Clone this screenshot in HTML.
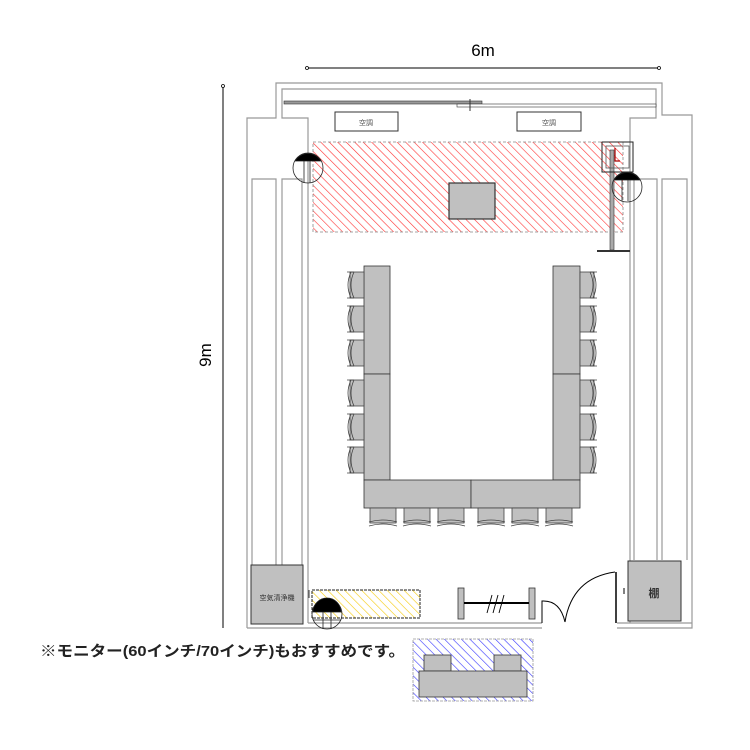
<!DOCTYPE html>
<html><head><meta charset="utf-8"><style>
html,body{margin:0;padding:0;background:#fff;}
svg{display:block}
</style></head><body>
<svg width="750" height="750" viewBox="0 0 750 750" xmlns="http://www.w3.org/2000/svg">
<defs>
<pattern id="red" patternUnits="userSpaceOnUse" width="6" height="6" patternTransform="rotate(-45)">
<rect width="6" height="6" fill="#fff"/><line x1="0" y1="0" x2="0" y2="6" stroke="#f33" stroke-width="1.2"/></pattern>
<pattern id="yel" patternUnits="userSpaceOnUse" width="6" height="6" patternTransform="rotate(-45)">
<rect width="6" height="6" fill="#fff"/><line x1="0" y1="0" x2="0" y2="6" stroke="#f5c800" stroke-width="1.2"/></pattern>
<pattern id="blu" patternUnits="userSpaceOnUse" width="6" height="6" patternTransform="rotate(-45)">
<rect width="6" height="6" fill="#fff"/><line x1="0" y1="0" x2="0" y2="6" stroke="#33f" stroke-width="1.2"/></pattern>
<g id="chL"><rect x="4" y="1" width="14" height="26" fill="#c0c0c0" stroke="#444" stroke-width="0.8"/><path d="M5,1 Q-1,14 5,27 M8,1 Q2,14 8,27 M1,1 L8,1 M1,27 L8,27" fill="none" stroke="#444" stroke-width="0.8"/></g>
</defs>

<!-- dimensions -->
<line x1="307" y1="68" x2="659" y2="68" stroke="#000" stroke-width="1"/>
<circle cx="307" cy="68" r="1.5" fill="#fff" stroke="#000" stroke-width="0.8"/>
<circle cx="659" cy="68" r="1.5" fill="#fff" stroke="#000" stroke-width="0.8"/>
<text x="483" y="56" font-family="Liberation Sans, sans-serif" font-size="17" text-anchor="middle">6m</text>
<line x1="223" y1="86" x2="223" y2="628" stroke="#000" stroke-width="1"/>
<circle cx="223" cy="86" r="1.5" fill="#fff" stroke="#000" stroke-width="0.8"/>
<text x="0" y="0" transform="translate(211,355) rotate(-90)" font-family="Liberation Sans, sans-serif" font-size="17" text-anchor="middle">9m</text>

<!-- walls -->
<g fill="none" stroke="#999" stroke-width="1.2">
<path d="M247,628 L247,118 L276,118 L276,83 L662,83 L662,115 L692,115 L692,628 L617,628"/>
<path d="M542,628 L247,628"/>
<path d="M308,623 L308,118 L282,118 L282,89 L656,89 L656,118 L630,118 L630,623"/>
<path d="M252,565 L252,179 L276,179 L276,565 M282,565 L282,179 L302,179 L302,565"/>
<path d="M634,560 L634,179 L657,179 L657,560 M662,560 L662,179 L687,179 L687,560"/>
<path d="M308,623 L542,623 M617,623 L692,623"/>
</g>
<!-- rails -->
<rect x="284" y="101" width="198" height="3" fill="#999" stroke="#333" stroke-width="0.6"/>
<rect x="457" y="104" width="199" height="3" fill="#fff" stroke="#333" stroke-width="0.6"/>
<line x1="470" y1="99" x2="470" y2="111" stroke="#333" stroke-width="1"/>

<!-- AC -->
<rect x="335" y="112" width="63" height="19" fill="#fff" stroke="#333" stroke-width="1"/>
<rect x="517" y="112" width="64" height="19" fill="#fff" stroke="#333" stroke-width="1"/>
<text x="366" y="125" font-family="Liberation Sans, 'Noto Sans CJK JP', sans-serif" font-size="7" text-anchor="middle" fill="#555">空調</text>
<text x="549" y="125" font-family="Liberation Sans, 'Noto Sans CJK JP', sans-serif" font-size="7" text-anchor="middle" fill="#555">空調</text>

<!-- red area -->
<rect x="313" y="142" width="310" height="90" fill="url(#red)" stroke="#888" stroke-width="0.8" stroke-dasharray="3,2"/>
<rect x="449" y="183" width="46" height="36" fill="#c0c0c0" stroke="#333" stroke-width="1.2"/>
<!-- stand -->
<rect x="610" y="150" width="4" height="100" fill="#aaa" stroke="#333" stroke-width="0.6"/>
<line x1="597" y1="251" x2="630" y2="251" stroke="#333" stroke-width="2"/>
<rect x="602" y="142" width="31" height="30" fill="none" stroke="#222" stroke-width="1"/>
<rect x="606" y="146" width="23" height="22" fill="none" stroke="#555" stroke-width="0.8"/>
<path d="M615,148 L615,161 L620,161" fill="none" stroke="#a00" stroke-width="1.2"/>
<!-- speakers -->
<g stroke="#222" stroke-width="0.8">
<circle cx="308" cy="168" r="15" fill="none"/>
<path d="M295,161 A15,15 0 0 1 321,161 Z" fill="#000"/>
<line x1="304" y1="161" x2="304" y2="183"/><line x1="310" y1="161" x2="310" y2="183"/>
<circle cx="627" cy="187" r="15" fill="none"/>
<path d="M614,180 A15,15 0 0 1 640,180 Z" fill="#000"/>
<line x1="622" y1="180" x2="622" y2="201"/><line x1="628" y1="180" x2="628" y2="201"/>
</g>

<!-- tables -->
<g fill="#c0c0c0" stroke="#333" stroke-width="0.8">
<rect x="364" y="266" width="26" height="108"/><rect x="364" y="374" width="26" height="106"/>
<rect x="553" y="266" width="27" height="108"/><rect x="553" y="374" width="27" height="106"/>
<rect x="364" y="480" width="107" height="28"/><rect x="471" y="480" width="109" height="28"/>
</g>
<!-- chairs left -->
<g>
<use href="#chL" x="346" y="271"/><use href="#chL" x="346" y="305"/><use href="#chL" x="346" y="339"/>
<use href="#chL" x="346" y="379"/><use href="#chL" x="346" y="413"/><use href="#chL" x="346" y="446"/>
</g>
<g transform="translate(944,0) scale(-1,1)">
<use href="#chL" x="346" y="271"/><use href="#chL" x="346" y="305"/><use href="#chL" x="346" y="339"/>
<use href="#chL" x="346" y="379"/><use href="#chL" x="346" y="413"/><use href="#chL" x="346" y="446"/>
</g>
<!-- bottom chairs -->
<g fill="#c0c0c0" stroke="#444" stroke-width="0.8">
<rect x="370" y="508" width="26" height="15"/><rect x="404" y="508" width="26" height="15"/><rect x="438" y="508" width="26" height="15"/>
<rect x="478" y="508" width="26" height="15"/><rect x="512" y="508" width="26" height="15"/><rect x="546" y="508" width="26" height="15"/>
<path fill="none" d="M369,522 Q383,518 397,522 M369,526 Q383,522 397,526 M403,522 Q417,518 431,522 M403,526 Q417,522 431,526 M437,522 Q451,518 465,522 M437,526 Q451,522 465,526 M477,522 Q491,518 505,522 M477,526 Q491,522 505,526 M511,522 Q525,518 539,522 M511,526 Q525,522 539,526 M545,522 Q559,518 573,522 M545,526 Q559,522 573,526"/>
</g>

<!-- bottom left -->
<rect x="251" y="565" width="52" height="59" fill="#c0c0c0" stroke="#333" stroke-width="1"/>
<text x="277" y="600" font-family="Liberation Sans, 'Noto Sans CJK JP', sans-serif" font-size="7" text-anchor="middle" fill="#333">空気清浄機</text>
<rect x="312" y="590" width="108" height="28" fill="url(#yel)" stroke="#222" stroke-width="1" stroke-dasharray="3,1"/>
<line x1="309" y1="590" x2="309" y2="598" stroke="#333" stroke-width="1"/>
<g stroke="#222" stroke-width="0.8">
<circle cx="327" cy="614" r="15" fill="none"/>
<path d="M313,612 A14,14 0 0 1 341,612 Z" fill="#000"/>
<line x1="323" y1="612" x2="323" y2="629"/><line x1="331" y1="612" x2="331" y2="629"/>
<line x1="313" y1="620" x2="341" y2="620"/>
</g>
<!-- bar -->
<rect x="458" y="588" width="6" height="31" fill="#c0c0c0" stroke="#333" stroke-width="0.8"/>
<rect x="529" y="588" width="6" height="31" fill="#c0c0c0" stroke="#333" stroke-width="0.8"/>
<line x1="464" y1="603" x2="529" y2="603" stroke="#000" stroke-width="2"/>
<path d="M487,613 L492,595 M493,613 L498,595 M499,613 L504,595" stroke="#000" stroke-width="0.9"/>
<!-- door -->
<path d="M542,623 L542,601 Q560,600 565,622" fill="none" stroke="#000" stroke-width="1"/>
<path d="M565,622 Q572,578 615,572" fill="none" stroke="#000" stroke-width="1"/>
<line x1="616" y1="572" x2="616" y2="623" stroke="#000" stroke-width="1.5"/>
<line x1="624" y1="588" x2="624" y2="594" stroke="#000" stroke-width="1"/>
<rect x="628" y="561" width="53" height="60" fill="#c0c0c0" stroke="#333" stroke-width="1"/>
<text x="654" y="597" font-family="Liberation Sans, 'Noto Sans CJK JP', sans-serif" font-size="11" font-weight="bold" text-anchor="middle" fill="#333">棚</text>

<!-- note -->
<text x="40" y="656" font-family="Liberation Sans, 'Noto Sans CJK JP', sans-serif" font-size="15" font-weight="bold" fill="#222" textLength="365" lengthAdjust="spacingAndGlyphs">※モニター(60インチ/70インチ)もおすすめです。</text>
<rect x="413" y="639" width="120" height="62" fill="url(#blu)" stroke="#999" stroke-width="0.8" stroke-dasharray="3,1"/>
<rect x="424" y="655" width="27" height="16" fill="#c0c0c0" stroke="#333" stroke-width="0.8"/>
<rect x="494" y="655" width="27" height="16" fill="#c0c0c0" stroke="#333" stroke-width="0.8"/>
<rect x="419" y="671" width="108" height="26" fill="#c0c0c0" stroke="#333" stroke-width="0.8"/>
</svg>
</body></html>
